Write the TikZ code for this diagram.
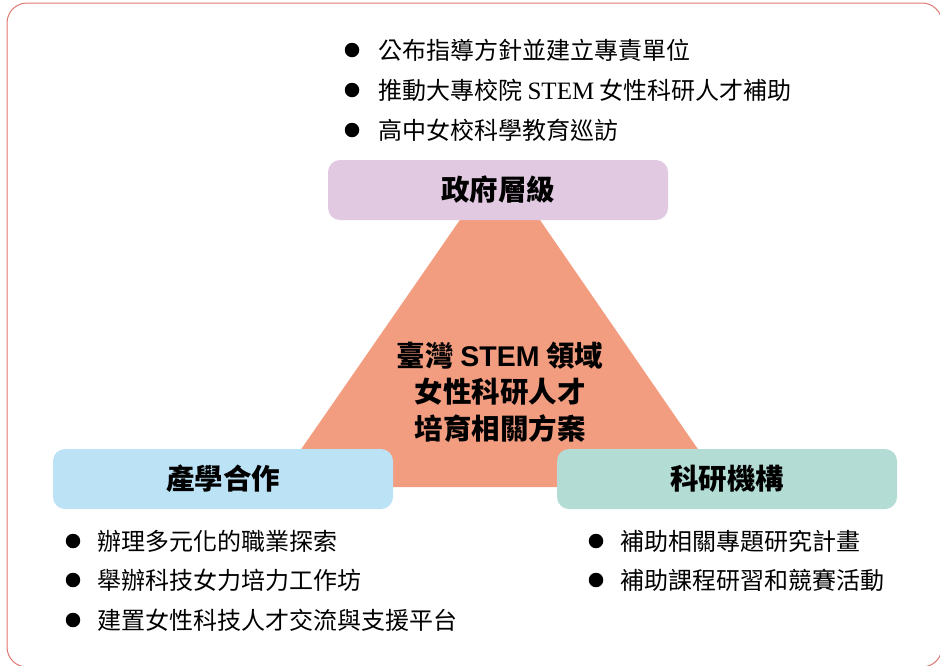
\documentclass[tikz,border=0pt]{standalone}
\usepackage{fontspec}
\setmainfont{Liberation Serif}
\newfontfamily\cjk{Noto Sans CJK TC}
\newfontfamily\arial{Liberation Sans}
\definecolor{framec}{RGB}{222,120,114}
\definecolor{tric}{RGB}{242,156,128}
\definecolor{govc}{RGB}{225,201,225}
\definecolor{indc}{RGB}{188,226,246}
\definecolor{resc}{RGB}{178,220,212}
\begin{document}
\begin{tikzpicture}[x=1pt,y=-1pt,
  dot/.style={circle,fill=black,minimum size=14.5pt,inner sep=0pt},
  item/.style={anchor=west,inner sep=0pt,font=\fontsize{24}{28}\selectfont\cjk},
  head/.style={rectangle,rounded corners=12pt,minimum width=340pt,minimum height=60pt,
    inner sep=0pt,font=\fontsize{28.5}{34}\selectfont\cjk\bfseries}]
\useasboundingbox (0,0) rectangle (940,665);
\clip (0,0) rectangle (940,665);
\draw[framec,line width=1pt,rounded corners=20pt] (7,3) rectangle (942,667);
% triangle
\coordinate (apex) at (500,162);
\coordinate (bl) at (275,487);
\coordinate (br) at (724,487);
\fill[tric] (apex) -- (bl) -- (br) -- cycle;
\node[align=center,inner sep=0pt,font=\fontsize{28.5}{36.5}\selectfont\cjk\bfseries] (core) at (500,392)
  {臺灣 {\arial\bfseries STEM} 領域\\女性科研人才\\培育相關方案};
% boxes
\node[head,fill=govc] (gov) at (498,190) {政府層級};
\node[head,fill=indc] (ind) at (223,479) {產學合作};
\node[head,fill=resc] (res) at (727,479) {科研機構};
% top list
\node[dot] (g1d) at (352,50) {};
\node[item] (g1) at (378,50) {公布指導方針並建立專責單位};
\node[dot] (g2d) at (352,90) {};
\node[item] (g2) at (378,90) {推動大專校院 {\rmfamily\fontsize{25}{28}\selectfont STEM} 女性科研人才補助};
\node[dot] (g3d) at (352,130) {};
\node[item] (g3) at (378,130) {高中女校科學教育巡訪};
% left list
\node[dot] (i1d) at (73,541) {};
\node[item] (i1) at (97,541) {辦理多元化的職業探索};
\node[dot] (i2d) at (73,580) {};
\node[item] (i2) at (97,580) {舉辦科技女力培力工作坊};
\node[dot] (i3d) at (73,620) {};
\node[item] (i3) at (97,620) {建置女性科技人才交流與支援平台};
% right list
\node[dot] (r1d) at (596,541) {};
\node[item] (r1) at (620,541) {補助相關專題研究計畫};
\node[dot] (r2d) at (596,580) {};
\node[item] (r2) at (620,580) {補助課程研習和競賽活動};
\end{tikzpicture}
\end{document}
